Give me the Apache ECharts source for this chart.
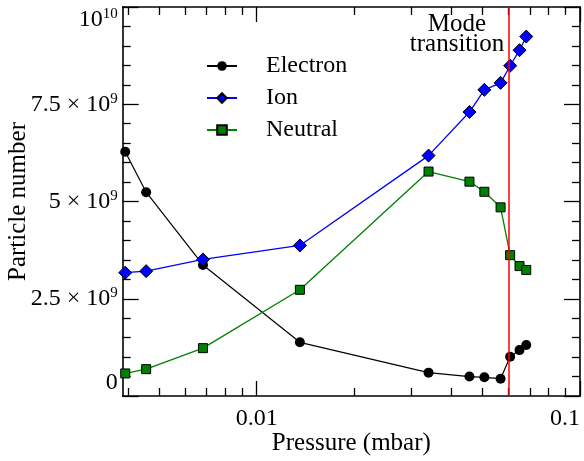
<!DOCTYPE html>
<html><head><meta charset="utf-8">
<script src="https://cdn.jsdelivr.net/npm/echarts@6/dist/echarts.min.js"></script>
<style>html,body{margin:0;padding:0;background:#fff}#c{width:584px;height:461px}</style>
</head><body><div id="c"></div>
<script>
// ---- data ----
const pressure = [0.00392, 0.00455, 0.00682, 0.0136, 0.0340, 0.0455, 0.0506, 0.0568, 0.0608, 0.0650, 0.0682];
const electron = [6.28e9, 5.24e9, 3.37e9, 1.38e9, 0.60e9, 0.50e9, 0.48e9, 0.445e9, 1.01e9, 1.18e9, 1.31e9];
const ion      = [3.17e9, 3.21e9, 3.51e9, 3.87e9, 6.18e9, 7.30e9, 7.87e9, 8.05e9, 8.49e9, 8.89e9, 9.24e9];
const neutral  = [0.58e9, 0.69e9, 1.23e9, 2.73e9, 5.77e9, 5.51e9, 5.25e9, 4.85e9, 3.62e9, 3.34e9, 3.24e9];
const seriesNames = ['Electron', 'Ion', 'Neutral'];
const modeTransitionPressure = 0.0586;
const annotationText = 'Mode\ntransition';
const xName = 'Pressure (mbar)';
const yName = 'Particle number';
const xMajorTicks = [0.01, 0.1];
const xTickLabels = ['0.01', '0.1'];
const xMinorTicks = [0.004, 0.005, 0.006, 0.007, 0.008, 0.009, 0.02, 0.03, 0.04, 0.05, 0.06, 0.07, 0.08, 0.09];
const yTicks = [0, 2.5e9, 5e9, 7.5e9, 1e10];
const yTickMantissa = ['0', '2.5 × 10', '5 × 10', '7.5 × 10', '10'];
const yTickExponent = ['', '9', '9', '9', '10'];

const FONT = 'Liberation Serif';
const X_MIN = 0.00385, X_MAX = 0.1;

function pairs(ys) { return pressure.map((p, i) => [p, ys[i]]); }

const chart = echarts.init(document.getElementById('c'), null, { renderer: 'canvas' });

function xLabel(v) {
  const i = xMajorTicks.findIndex(t => Math.abs(t - v) / t < 1e-6);
  return i >= 0 ? xTickLabels[i] : '';
}
function yLabel(v) {
  const i = yTicks.findIndex(t => Math.abs(t - v) < 1);
  if (i < 0) return '';
  return yTickExponent[i] ? '{b|' + yTickMantissa[i] + '}{s|' + yTickExponent[i] + '}' : '{b|' + yTickMantissa[i] + '}';
}

const frameLine = { show: true, lineStyle: { color: '#000', width: 1.6 } };

const baseX = {
  type: 'log', logBase: 10, min: X_MIN, max: X_MAX, gridIndex: 0,
  splitLine: { show: false }, minorSplitLine: { show: false }
};
const baseY = {
  type: 'value', min: 0, max: 1e10, interval: 2.5e9,
  splitLine: { show: false }
};

const option = {
  animation: false,
  backgroundColor: '#fff',
  textStyle: { fontFamily: FONT },
  grid: { left: 122.7, right: 4, top: 7, bottom: 65, containLabel: false, outerBoundsMode: 'none' },
  legend: {
    data: seriesNames, orient: 'vertical', left: 201, top: 49,
    itemWidth: 30, itemHeight: 12, itemGap: 8,
    textStyle: { fontFamily: FONT, fontSize: 24, color: '#000', padding: [0, 0, 0, 24] }
  },
  xAxis: [
    Object.assign({}, baseX, {
      position: 'bottom',
      name: xName, nameLocation: 'middle', nameGap: 35, nameMoveOverlap: false,
      nameTextStyle: { fontFamily: FONT, fontSize: 25, color: '#000' },
      axisLine: frameLine,
      axisTick: { show: true, inside: true, length: 15, customValues: xMajorTicks, lineStyle: { color: '#000', width: 1.3 } },
      axisLabel: { show: true, customValues: xMajorTicks, formatter: xLabel, margin: 11,
        fontFamily: FONT, fontSize: 24, color: '#000', alignMaxLabel: 'right' }
    }),
    Object.assign({}, baseX, {
      position: 'bottom',
      axisLine: { show: false },
      axisTick: { show: true, inside: true, length: 8, customValues: xMinorTicks, lineStyle: { color: '#000', width: 1.3 } },
      axisLabel: { show: false }
    }),
    Object.assign({}, baseX, {
      position: 'top',
      axisLine: frameLine,
      axisTick: { show: true, inside: true, length: 15, customValues: xMajorTicks, lineStyle: { color: '#000', width: 1.3 } },
      axisLabel: { show: false }
    }),
    Object.assign({}, baseX, {
      position: 'top',
      axisLine: { show: false },
      axisTick: { show: true, inside: true, length: 8, customValues: xMinorTicks, lineStyle: { color: '#000', width: 1.3 } },
      axisLabel: { show: false }
    })
  ],
  yAxis: [
    Object.assign({}, baseY, {
      position: 'left',
      name: yName, nameLocation: 'middle', nameGap: 92, nameMoveOverlap: false,
      nameTextStyle: { fontFamily: FONT, fontSize: 25, color: '#000' },
      axisLine: frameLine,
      axisTick: { show: true, inside: true, length: 16, lineStyle: { color: '#000', width: 1.3 } },
      minorTick: { show: true, splitNumber: 5, length: 8, lineStyle: { color: '#000', width: 1.3 } },
      axisLabel: {
        show: true, margin: 5, formatter: yLabel, color: '#000',
        verticalAlignMaxLabel: 'top', verticalAlignMinLabel: 'bottom',
        rich: {
          b: { fontFamily: FONT, fontSize: 24, color: '#000', lineHeight: 26 },
          s: { fontFamily: FONT, fontSize: 15, color: '#000', verticalAlign: 'top', lineHeight: 26 }
        }
      }
    }),
    Object.assign({}, baseY, {
      position: 'right',
      axisLine: frameLine,
      axisTick: { show: true, inside: true, length: 16, lineStyle: { color: '#000', width: 1.3 } },
      minorTick: { show: true, splitNumber: 5, length: 8, lineStyle: { color: '#000', width: 1.3 } },
      axisLabel: { show: false }
    })
  ],
  graphic: [{
    type: 'text', x: 457, y: 14, z: 10,
    style: { text: annotationText, fontFamily: FONT, fontSize: 25, lineHeight: 20,
      fill: '#000', align: 'center', verticalAlign: 'top' }
  }],
  series: [
    {
      name: seriesNames[0], type: 'line', xAxisIndex: 0, yAxisIndex: 0, data: pairs(electron),
      symbol: 'circle', symbolSize: 10, clip: false,
      lineStyle: { color: '#000', width: 1.2 },
      itemStyle: { color: '#000', borderColor: '#000', borderWidth: 0 },
      markLine: {
        silent: true, symbol: ['none', 'none'], label: { show: false },
        lineStyle: { color: '#ff0000', width: 1.5, type: 'solid' },
        data: [{ xAxis: modeTransitionPressure }]
      },
      z: 3
    },
    {
      name: seriesNames[1], type: 'line', xAxisIndex: 0, yAxisIndex: 0, data: pairs(ion),
      symbol: 'diamond', symbolSize: 13, clip: false,
      lineStyle: { color: '#0000ff', width: 1.3 },
      itemStyle: { color: '#0000ff', borderColor: '#000', borderWidth: 1 },
      z: 4
    },
    {
      name: seriesNames[2], type: 'line', xAxisIndex: 0, yAxisIndex: 0, data: pairs(neutral),
      symbol: 'rect', symbolSize: 9, clip: false,
      lineStyle: { color: '#008000', width: 1.3 },
      itemStyle: { color: '#008000', borderColor: '#000', borderWidth: 1 },
      z: 4
    }
  ]
};
chart.setOption(option);
</script>
</body></html>
